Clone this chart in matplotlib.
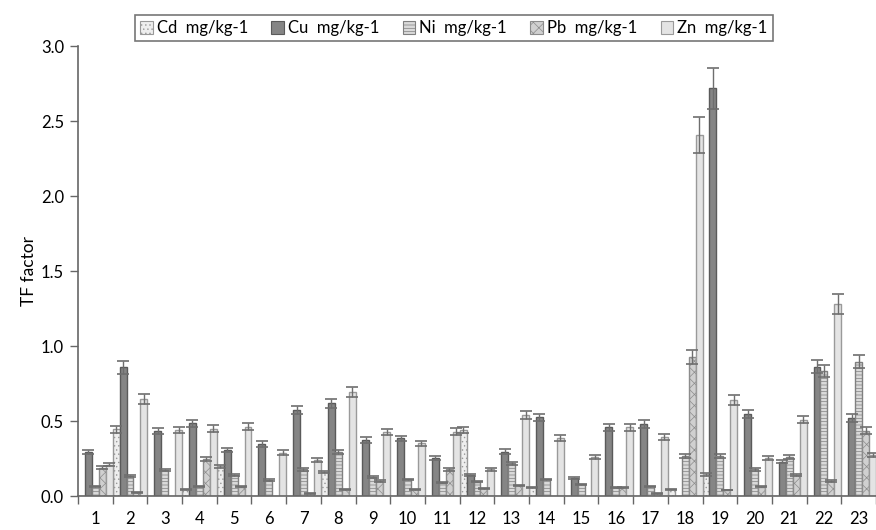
import numpy as np
import matplotlib
matplotlib.use("Agg")
import matplotlib.pyplot as plt
from matplotlib.patches import Patch

plt.rcParams['font.family'] = ['Lato', 'DejaVu Sans']
plt.rcParams['hatch.linewidth'] = 0.5

# TF factor per site
sites = [str(i) for i in range(1, 24)]
cd = [0, 0.445, 0, 0.045, 0.2, 0, 0, 0.162, 0, 0, 0, 0.44, 0, 0.058, 0, 0, 0,
      0.045, 0.144, 0, 0, 0, 0]
cu = [0.295, 0.86, 0.435, 0.485, 0.307, 0.347, 0.573, 0.618, 0.373, 0.384, 0.255,
      0.14, 0.296, 0.524, 0.118, 0.458, 0.48, 0, 2.72, 0.547, 0.229, 0.862, 0.52]
ni = [0.066, 0.135, 0.173, 0.066, 0.14, 0.107, 0.178, 0.295, 0.129, 0.111, 0.089,
      0.096, 0.218, 0.111, 0.078, 0.058, 0.067, 0.265, 0.267, 0.178, 0.262, 0.833, 0.896]
pb = [0.19, 0.025, 0, 0.247, 0.062, 0, 0.018, 0.045, 0.102, 0.045, 0.178, 0.051,
      0.073, 0, 0, 0.058, 0.018, 0.93, 0.04, 0.062, 0.14, 0.1, 0.436]
zn = [0.21, 0.645, 0.44, 0.45, 0.462, 0.29, 0.24, 0.695, 0.429, 0.351, 0.43, 0.178,
      0.54, 0.385, 0.26, 0.458, 0.396, 2.41, 0.64, 0.256, 0.51, 1.28, 0.273]
labels = ['Cd  mg/kg-1', 'Cu  mg/kg-1', 'Ni  mg/kg-1', 'Pb  mg/kg-1', 'Zn  mg/kg-1']
err_pct = 0.05  # percentage error bars

# fill, hatch, edge per metal
styles = [
    ('#eeeeee', '....', '#999999'),
    ('#858585', '', '#5a5a5a'),
    ('#dadada', '-----', '#808080'),
    ('#d0d0d0', 'xxx', '#8c8c8c'),
    ('#e4e4e4', '', '#9a9a9a'),
]

fig = plt.figure(figsize=(8.76, 5.30), dpi=100)
ax = fig.add_axes([0.089, 0.064, 0.911, 0.849])

x = np.arange(len(sites))
w = 0.2
handles = []
for k, (vals, (fc, hatch, ec)) in enumerate(zip([cd, cu, ni, pb, zn], styles)):
    vals = np.array(vals)
    pos = x + (k + 0.5) * w
    ax.bar(pos, vals, width=w, color=fc, edgecolor=ec, hatch=hatch,
           linewidth=1.0, zorder=2)
    shown = vals > 0
    ax.errorbar(pos[shown], vals[shown], yerr=vals[shown] * err_pct, fmt='none',
                ecolor='#6e6e6e', elinewidth=1.0, capsize=4, capthick=1.2, zorder=3)
    handles.append(Patch(facecolor=fc, edgecolor=ec, hatch=hatch, linewidth=0.8,
                         label=labels[k]))

ax.set_xlim(0, len(sites))
ax.set_ylim(0, 3.0)
ax.set_yticks(np.arange(0, 3.01, 0.5))
ax.set_yticklabels([f'{v:.1f}' for v in np.arange(0, 3.01, 0.5)], fontsize=12)
ax.set_xticks(x + 0.5)
ax.set_xticklabels(sites, fontsize=12)
ax.set_xticks(np.arange(0, len(sites) + 1), minor=True)
ax.tick_params(axis='x', which='major', length=0, pad=11)
ax.tick_params(axis='x', which='minor', length=6, width=1, color='#666666',
               direction='out')
ax.tick_params(axis='y', length=6, width=1, color='#666666', direction='out', pad=4)
for s in ['top', 'right']:
    ax.spines[s].set_visible(False)
for s in ['left', 'bottom']:
    ax.spines[s].set_color('#666666')
    ax.spines[s].set_linewidth(1.2)

ax.set_ylabel('TF factor', fontsize=12.5, labelpad=3)

leg = ax.legend(handles=handles, loc='upper center', bbox_to_anchor=(0.471, 1.087),
                ncol=5, fontsize=12, frameon=True, fancybox=False,
                handlelength=0.75, handleheight=0.75, handletextpad=0.25,
                columnspacing=1.4, borderpad=0.3)
leg.get_frame().set_edgecolor('#555555')
leg.get_frame().set_linewidth(1.2)

fig.savefig('out.png', dpi=100)
